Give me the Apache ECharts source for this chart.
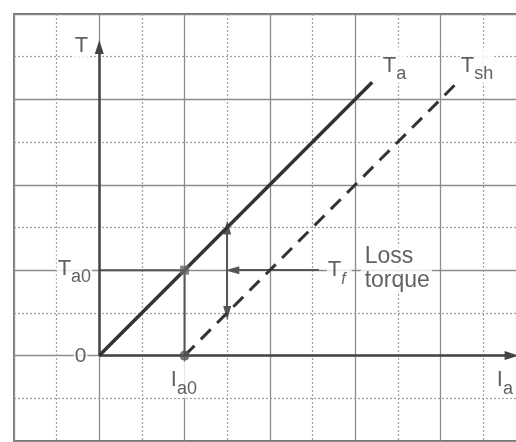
<!DOCTYPE html>
<html>
<head>
<meta charset="utf-8">
<script src="https://cdn.jsdelivr.net/npm/echarts/dist/echarts.min.js"></script>
<style>
  html, body { margin: 0; padding: 0; background: #fff; }
  #chart { width: 516px; height: 442px; }
</style>
</head>
<body>
<div id="chart"></div>
<script>
// Torque vs armature current of a DC motor (grid units)
const armatureTorque = [[0, 0], [6.4, 6.4]];     // T_a
const shaftTorque = [[2, 0], [8.35, 6.35]];      // T_sh
const noLoadPoint = [[2, 2]];                    // (I_a0, T_a0)
const noLoadCurrent = [[2, 0]];                  // I_a0 on the current axis
const projection = [[0, 2], [2, 2], [2, 0]];     // T_a0 -> point -> I_a0
const torqueAxis = [[0, 0], [0, 7.23]];
const currentAxis = [[0, 0], [9.67, 0]];
const lossArrow = [[3, 3], [3, 1]];              // gap between T_a and T_sh
const pointerArrow = [[5.15, 2], [3.12, 2]];     // from "T_f" to the gap

// Text annotations: rich-text string, left x, middle y
const labelTexts = ['{m|T}', '{m|T}{s|a}', '{m|T}{s|sh}', '{m|T}{s|a0}', '{z|0}',
                    '{m|I}{s|a0}', '{m|I}{s|a}', '{m|T}{f|f}', '{w|Loss}\n{w|torque}'];
const labelX = [-0.6, 6.625, 8.455, -1.0, -0.6, 1.653, 9.3, 5.335, 6.13];
const labelY = [7.25, 6.794, 6.794, 2.04, -0.02, -0.571, -0.571, 2.0, 2.03];
const labelPad = [[0, 1], [0, 1], [0, 1], [0, 1], [0, 1], [0, 1], [0, 1], [0, 6, 0, 1], [0, 2, 0, 4]];

const INK = '#3a3a3a';
const FONT = 'Liberation Sans';

const rich = {
  m: { fontSize: 22, color: INK, fontFamily: FONT },
  s: { fontSize: 18, color: INK, fontFamily: FONT, padding: [18, 0, 0, 0] },
  f: { fontSize: 16, color: INK, fontFamily: FONT, fontStyle: 'italic', padding: [18, 0, 0, 0] },
  z: { fontSize: 21, color: INK, fontFamily: FONT },
  w: { fontSize: 23, color: INK, fontFamily: FONT, lineHeight: 24 }
};

const labelData = labelTexts.map((t, i) => ({
  value: [labelX[i], labelY[i]],
  label: {
    show: true,
    position: 'inside',
    align: 'left',
    verticalAlign: 'middle',
    formatter: t,
    rich: rich,
    backgroundColor: '#fff',
    padding: labelPad[i]
  }
}));

function segment(pts, symbols, size) {
  return [[
    { coord: pts[0], symbol: symbols[0], symbolSize: size },
    { coord: pts[1], symbol: symbols[1], symbolSize: size }
  ]];
}

const markStyle = (lw, color) => ({ type: 'solid', width: lw, color: color });

const chart = echarts.init(document.getElementById('chart'), null, { renderer: 'canvas' });

chart.setOption({
  animation: false,
  backgroundColor: '#fff',
  textStyle: { fontFamily: FONT },
  grid: {
    left: 14, top: 14, width: 511.7, height: 427, containLabel: false, outerBoundsMode: 'none',
    show: true, borderColor: '#6e6e6e', borderWidth: 1.8, backgroundColor: 'transparent'
  },
  xAxis: {
    type: 'value', min: -2, max: 10, interval: 2,
    axisLine: { show: false }, axisTick: { show: false }, axisLabel: { show: false },
    splitLine: { show: true, lineStyle: { color: '#8c8c8c', width: 1.3, type: 'solid' } },
    minorTick: { show: false, splitNumber: 2 },
    minorSplitLine: { show: true, lineStyle: { color: '#a0a0a0', width: 1.2, type: [2, 2] } }
  },
  yAxis: {
    type: 'value', min: -2, max: 8, interval: 2,
    axisLine: { show: false }, axisTick: { show: false }, axisLabel: { show: false },
    splitLine: { show: true, lineStyle: { color: '#8c8c8c', width: 1.3, type: 'solid' } },
    minorTick: { show: false, splitNumber: 2 },
    minorSplitLine: { show: true, lineStyle: { color: '#a0a0a0', width: 1.2, type: [2, 2] } }
  },
  series: [
    {
      name: 'labels', type: 'scatter', symbolSize: 0, silent: true, z: 3,
      data: labelData
    },
    {
      name: 'projection', type: 'line', data: projection, symbol: 'none', z: 4,
      lineStyle: { color: '#555', width: 2 }
    },
    {
      name: 'axes', type: 'line', data: [], z: 4,
      markLine: {
        silent: true, label: { show: false },
        data: [
          ...segment(torqueAxis, ['none', 'triangle'], [9, 14]),
          ...segment(currentAxis, ['none', 'triangle'], [9, 14])
        ],
        lineStyle: markStyle(2.5, '#444')
      }
    },
    {
      name: 'arrows', type: 'line', data: [], z: 5,
      markLine: {
        silent: true, label: { show: false },
        data: [
          ...segment(lossArrow, ['triangle', 'triangle'], [8, 14]),
          ...segment(pointerArrow, ['none', 'triangle'], [8, 14])
        ],
        lineStyle: markStyle(2, '#555')
      }
    },
    {
      name: 'T_a', type: 'line', data: armatureTorque, symbol: 'none', z: 6,
      lineStyle: { color: '#333', width: 3.5 }
    },
    {
      name: 'T_sh', type: 'line', data: shaftTorque, symbol: 'none', z: 6,
      lineStyle: { color: '#333', width: 3, type: [14, 9] }
    },
    {
      name: 'T_a0', type: 'scatter', data: noLoadPoint, symbol: 'rect', symbolSize: 9, z: 7,
      itemStyle: { color: '#666' }
    },
    {
      name: 'I_a0', type: 'scatter', data: noLoadCurrent, symbol: 'circle', symbolSize: 10, z: 7,
      itemStyle: { color: '#555' }
    }
  ]
});
</script>
</body>
</html>
